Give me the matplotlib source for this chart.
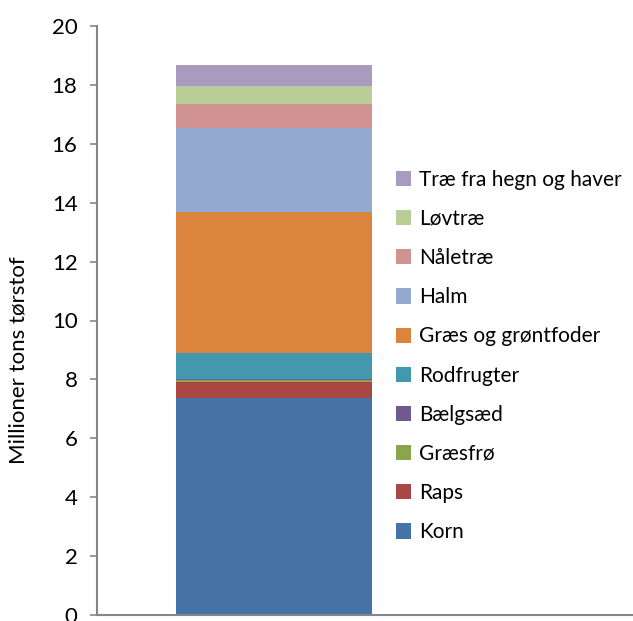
import matplotlib.pyplot as plt

plt.rcParams['font.family'] = ['Lato', 'DejaVu Sans']

# Biomass by source, million tons dry matter (bottom to top)
categories = ['Korn', 'Raps', 'Græsfrø', 'Bælgsæd', 'Rodfrugter',
              'Græs og grøntfoder', 'Halm', 'Nåletræ', 'Løvtræ',
              'Træ fra hegn og haver']
values = [7.38, 0.53, 0.07, 0.02, 0.90, 4.78, 2.85, 0.82, 0.61, 0.73]
colors = ['#4572A7', '#AA4643', '#89A54E', '#71588F', '#4198AF',
          '#DB843D', '#93A9CF', '#D19392', '#B9CD96', '#A99BBD']
y_ticks = [0, 2, 4, 6, 8, 10, 12, 14, 16, 18, 20]

fig = plt.figure(figsize=(6.33, 6.21), dpi=100)
ax = fig.add_axes([97 / 633, 6 / 621, 536 / 633, 589 / 621])

bottom = 0
handles = []
for name, val, col in zip(categories, values, colors):
    h = ax.bar(0, val, width=0.6, bottom=bottom, color=col, label=name)
    handles.append(h)
    bottom += val

ax.set_xlim(-0.542, 1.099)
ax.set_ylim(0, 20)
ax.set_yticks(y_ticks)
ax.set_xticks([])
ax.tick_params(axis='y', labelsize=16, length=5, color='#868686', width=1.2, pad=9)

for side in ['top', 'right']:
    ax.spines[side].set_visible(False)
for side in ['left', 'bottom']:
    ax.spines[side].set_color('#868686')
    ax.spines[side].set_linewidth(1.5)

ax.set_ylabel('Millioner tons tørstof', fontsize=16)
ax.yaxis.set_label_coords(-0.128, 0.433)

ax.legend(handles[::-1], categories[::-1], loc='upper left',
          bbox_to_anchor=(377 / 633, 1 - 151 / 621), bbox_transform=fig.transFigure,
          frameon=False, fontsize=15, handlelength=0.75, handleheight=0.75,
          handletextpad=0.35, labelspacing=0.92)

plt.savefig('out.png', dpi=100)
plt.close(fig)
